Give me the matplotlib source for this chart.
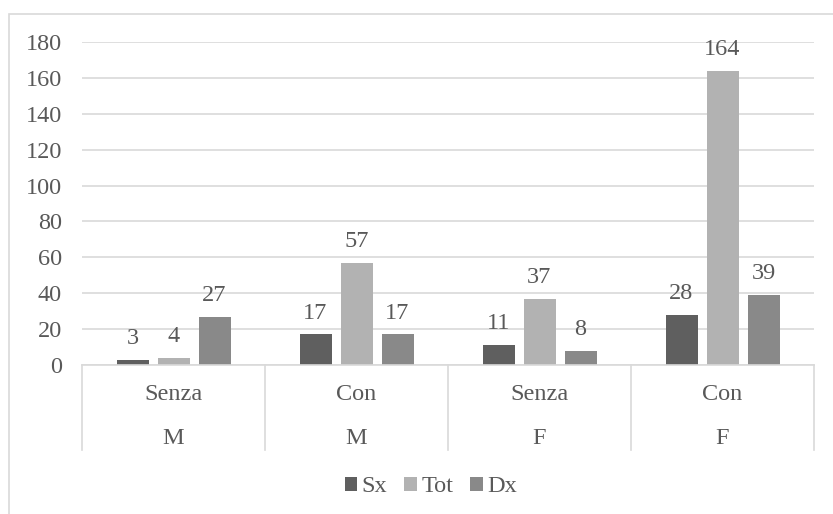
import matplotlib
matplotlib.use("Agg")
import matplotlib.pyplot as plt
from matplotlib.patches import Rectangle
from matplotlib.lines import Line2D
import numpy as np

plt.rcParams['font.family'] = ['Liberation Serif', 'DejaVu Serif']

inner_labels = ["Senza", "Con", "Senza", "Con"]
outer_labels = ["M", "M", "F", "F"]
series_names = ["Sx", "Tot", "Dx"]
sx_values = [3, 17, 11, 28]
tot_values = [4, 57, 37, 164]
dx_values = [27, 17, 8, 39]
y_ticks = [0, 20, 40, 60, 80, 100, 120, 140, 160, 180]

colors = ["#5f5f5f", "#b2b2b2", "#898989"]
text_color = "#595959"
grid_color = "#d9d9d9"
fs = 17.5

W, H = 833, 514
fig = plt.figure(figsize=(W / 100, H / 100), dpi=100)
ax = fig.add_axes([82 / W, 1 - 365 / H, (814 - 82) / W, (365 - 42) / H])

# chart area border
fig.patches.append(Rectangle((8.5 / W, -0.1), 1.2, 1 - 13.5 / H + 0.1,
                             transform=fig.transFigure, fill=False,
                             edgecolor=grid_color, linewidth=1.2))

x = np.arange(len(inner_labels))
bar_w = 32 / 183
step = 41 / 183
all_series = [sx_values, tot_values, dx_values]
for i, (vals, name, c) in enumerate(zip(all_series, series_names, colors)):
    pos = x + (i - 1) * step
    ax.bar(pos, vals, width=bar_w, color=c, label=name, zorder=3)
    for px, v in zip(pos, vals):
        ax.annotate(str(v), (px, v), xytext=(0, 11.5), textcoords="offset points",
                    ha="center", va="baseline", fontsize=fs, color=text_color)

ax.set_xlim(-0.5, len(inner_labels) - 0.5)
ax.set_ylim(0, 180)
ax.set_yticks(y_ticks)
ax.tick_params(axis="y", length=0, pad=14.4, labelsize=fs, labelcolor=text_color)
ax.set_xticks([])
ax.yaxis.grid(True, color=grid_color, linewidth=1.2, zorder=0)
for s in ["top", "right", "left"]:
    ax.spines[s].set_visible(False)
ax.spines["bottom"].set_color(grid_color)
ax.spines["bottom"].set_linewidth(1.2)
ax.spines["bottom"].set_zorder(4)

# two-level category axis
trans = ax.get_xaxis_transform()
px_per_axes = 365 - 42
sep_bottom = -(450 - 365) / px_per_axes
for b in np.arange(-0.5, len(inner_labels), 1.0):
    ax.add_line(Line2D([b, b], [0, sep_bottom], transform=trans, color=grid_color,
                       linewidth=1.2, clip_on=False))
for xi, (lab_in, lab_out) in enumerate(zip(inner_labels, outer_labels)):
    ax.text(xi, -(395 - 365) / px_per_axes, lab_in, transform=trans, ha="center",
            va="center", fontsize=fs, color=text_color)
    ax.text(xi, -(438 - 365) / px_per_axes, lab_out, transform=trans, ha="center",
            va="center", fontsize=fs, color=text_color)

fig.legend(loc="center", bbox_to_anchor=(431 / W, 1 - 487 / H), ncol=3,
           frameon=False, fontsize=fs, labelcolor=text_color,
           handlelength=0.5, handleheight=0.5, handletextpad=0.2,
           columnspacing=0.7)

fig.savefig("out.png", dpi=100)
